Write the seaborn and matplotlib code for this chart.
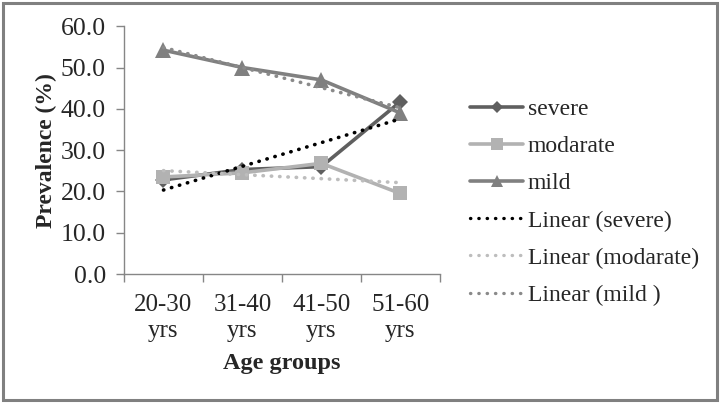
import numpy as np
import pandas as pd
import matplotlib
matplotlib.use("Agg")
import matplotlib.pyplot as plt
import seaborn as sns
from matplotlib.patches import Rectangle
from matplotlib.lines import Line2D

categories = ["20-30\nyrs", "31-40\nyrs", "41-50\nyrs", "51-60\nyrs"]
severe = [22.8, 25.3, 26.0, 41.7]
modarate = [23.5, 24.5, 26.8, 19.5]
mild = [54.2, 50.0, 47.0, 39.0]
series_names = ["severe", "modarate", "mild"]
trend_names = ["Linear (severe)", "Linear (modarate)", "Linear (mild )"]
y_ticks = [0, 10, 20, 30, 40, 50, 60]

sns.set_theme(style="white")
plt.rcParams["font.family"] = ["Liberation Serif", "DejaVu Serif"]

fig = plt.figure(figsize=(7.21, 4.03), dpi=100)
ax = fig.add_axes([0.172, 0.320, 0.438, 0.615])

pos = np.arange(len(categories))
df = pd.DataFrame({"pos": pos, "severe": severe, "modarate": modarate, "mild": mild})

line_colors = {"severe": "#5f5f5f", "modarate": "#b2b2b2", "mild": "#808080"}
markers = {"severe": "D", "modarate": "s", "mild": "^"}
msizes = {"severe": 8, "modarate": 10, "mild": 11}
trend_colors = {"severe": "#000000", "modarate": "#bdbdbd", "mild": "#8a8a8a"}

handles = []
for name in series_names:
    sns.lineplot(data=df, x="pos", y=name, ax=ax, color=line_colors[name],
                 marker=markers[name], markersize=msizes[name], markeredgewidth=0,
                 linewidth=2.6, zorder=3)
    handles.append(Line2D([], [], color=line_colors[name], marker=markers[name],
                          markersize=msizes[name] - 2, markeredgewidth=0, linewidth=2.6))

dot = (0, (0.1, 2.2))
for name in series_names:
    sns.regplot(data=df, x="pos", y=name, ax=ax, scatter=False, ci=None,
                line_kws=dict(color=trend_colors[name], linewidth=2.6,
                              linestyle=dot, dash_capstyle="round", zorder=4))
    handles.append(Line2D([], [], color=trend_colors[name], linewidth=2.4,
                          linestyle=(0, (0.1, 2.4)), dash_capstyle="round"))

ax.set_xlim(-0.5, 3.5)
ax.set_ylim(0, 60)
ax.set_yticks(y_ticks)
ax.set_yticklabels([f"{v:.1f}" for v in y_ticks], fontsize=18.5)
ax.set_xticks(pos)
ax.set_xticklabels(categories, fontsize=18, linespacing=1.22)
ax.set_xticks(np.arange(-0.5, 4.0, 1.0), minor=True)
ax.tick_params(axis="x", which="major", length=0, pad=14.5)
ax.tick_params(axis="x", which="minor", length=6, width=1, color="#868686", direction="out", bottom=True)
ax.tick_params(axis="y", which="major", length=6, width=1, color="#868686", direction="out", left=True, pad=7)
ax.set_xlabel("Age groups", fontsize=17.5, fontweight="bold", labelpad=8)
ax.set_ylabel("Prevalence (%)", fontsize=17, fontweight="bold", labelpad=3)
for s in ["top", "right"]:
    ax.spines[s].set_visible(False)
for s in ["left", "bottom"]:
    ax.spines[s].set_color("#868686")
    ax.spines[s].set_linewidth(1)

leg = fig.legend(handles, series_names + trend_names, loc="upper left",
                 bbox_to_anchor=(0.652, 0.755), frameon=False, fontsize=17,
                 handlelength=2.25, handletextpad=0.2, labelspacing=0.66,
                 borderaxespad=0, borderpad=0)

fig.patches.append(Rectangle((0.004, 0.007), 0.990, 0.985, transform=fig.transFigure,
                             fill=False, edgecolor="#808080", linewidth=2.2))

fig.savefig("out.png", dpi=100)
